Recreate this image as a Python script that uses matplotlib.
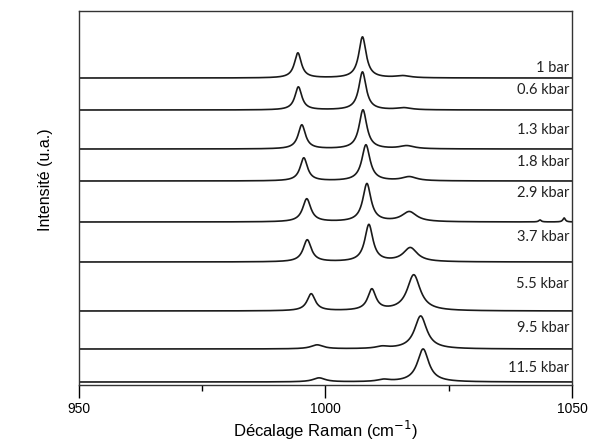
import numpy as np
import matplotlib
matplotlib.use("Agg")
import matplotlib.pyplot as plt

# ---- data ----
pressure_labels = ["1 bar", "0.6 kbar", "1.3 kbar", "1.8 kbar", "2.9 kbar",
                   "3.7 kbar", "5.5 kbar", "9.5 kbar", "11.5 kbar"]
# vertical offset (baseline) of each spectrum, arbitrary units
baselines = [307, 275, 236, 204, 163, 123, 74, 36, 3]
label_offsets = [10, 20, 19, 19, 29, 25, 27, 21, 14]

# band positions (cm-1) for each spectrum
band1_pos = [994.4, 994.5, 995.2, 995.6, 996.2, 996.3, 997.1, 998.3, 998.7]
band2_pos = [1007.5, 1007.5, 1007.6, 1008.2, 1008.4, 1008.8, 1009.4, 1011.5, 1011.8]
band3_pos = [1015.7, 1015.9, 1016.5, 1017.0, 1017.0, 1017.2, 1017.9, 1019.3, 1019.8]
# band heights (a.u.)
band1_h = [25, 23, 24, 23, 23, 22, 17, 4, 4]
band2_h = [41, 38, 39, 36, 38, 37, 21, 2, 2]
band3_h = [2, 2, 3, 4, 10, 14, 36, 33, 33]
# band half widths (cm-1)
band1_w = [0.85, 0.85, 0.9, 0.9, 1.0, 1.0, 1.0, 1.5, 1.5]
band2_w = [0.9, 0.9, 0.95, 1.0, 1.0, 1.0, 1.0, 1.5, 1.5]
band3_w = [1.8, 1.8, 1.8, 1.8, 1.8, 1.7, 1.6, 1.5, 1.4]
# small extra lines in the 2.9 kbar spectrum
extra_pos = [1043.5, 1048.4]
extra_h = [2, 4]

x = np.linspace(950, 1050, 2001)


def band(xx, c, h, w):
    return h * w ** 2 / ((xx - c) ** 2 + w ** 2)


plt.rcParams['font.family'] = ['Liberation Sans', 'DejaVu Sans']
fig = plt.figure(figsize=(5.93, 4.48), dpi=100)
ax = fig.add_axes([0.1332, 0.1406, 0.8314, 0.8348])

for i, lab in enumerate(pressure_labels):
    y = (baselines[i]
         + band(x, band1_pos[i], band1_h[i], band1_w[i])
         + band(x, band2_pos[i], band2_h[i], band2_w[i])
         + band(x, band3_pos[i], band3_h[i], band3_w[i]))
    if lab == "2.9 kbar":
        for c, h in zip(extra_pos, extra_h):
            y = y + band(x, c, h, 0.3)
    ax.plot(x, y, color='#1a1a1a', lw=1.2)
    ax.text(1049.4, baselines[i] + label_offsets[i], lab, ha='right', va='center',
            fontsize=10.5, family=['Lato', 'DejaVu Sans'], color='#222222')

ax.set_xlim(950, 1050)
ax.set_ylim(0, 374)
ax.set_yticks([])
ax.set_xticks([950, 1000, 1050])
ax.set_xticks([975, 1025], minor=True)
ax.tick_params(axis='x', which='major', direction='out', length=9, width=1,
               labelsize=10, pad=3)
ax.tick_params(axis='x', which='minor', direction='out', length=4, width=1)
for s in ax.spines.values():
    s.set_linewidth(1.0)
    s.set_color('#333333')

ax.set_xlabel("Décalage Raman (cm$^{-1}$)", fontsize=12, labelpad=2)
ax.set_ylabel("Intensité (u.a.)", fontsize=11.5)
ax.yaxis.set_label_coords(-0.052, 0.55)

fig.savefig("out.png", dpi=100)
